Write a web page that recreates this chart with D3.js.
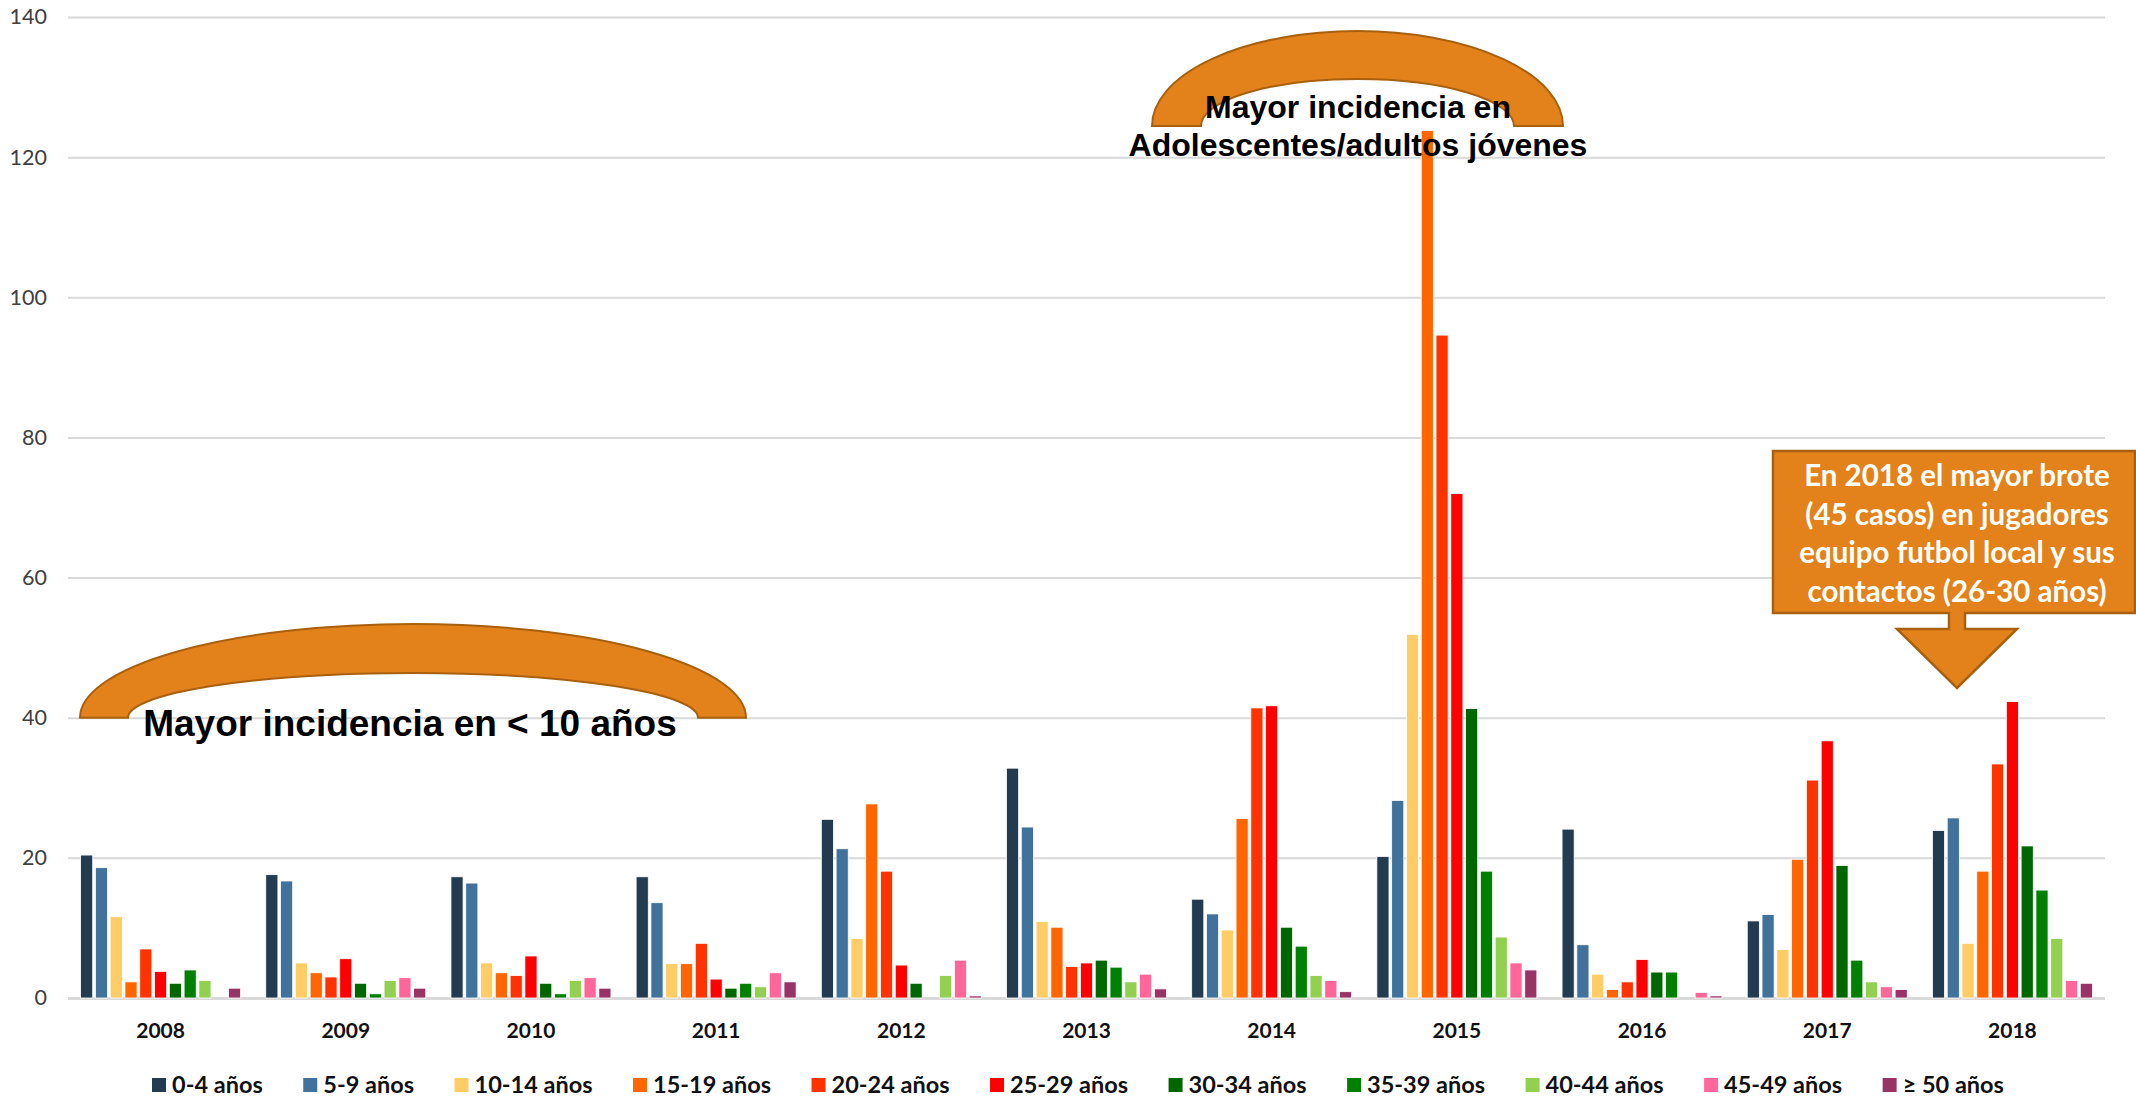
<!DOCTYPE html>
<html>
<head>
<meta charset="utf-8">
<script src="https://cdn.jsdelivr.net/npm/d3@7"></script>
<style>
body{margin:0;background:#fff;}
svg{display:block;}
</style>
</head>
<body>
<svg id="graph" width="2136" height="1098"></svg>
<script>
///--------------------Données
var annees = ["2008","2009","2010","2011","2012","2013","2014","2015","2016","2017","2018"];
var groupes = ["0-4 años","5-9 años","10-14 años","15-19 años","20-24 años","25-29 años","30-34 años","35-39 años","40-44 años","45-49 años","≥ 50 años"];
var couleurs = ["#223B50","#41729C","#FFCC66","#FF6600","#FF3300","#FF0000","#006600","#008000","#92D050","#FF6699","#993366"];

var s0_4   = [20.4, 17.6, 17.3, 17.3, 25.5, 32.8, 14.1, 20.2, 24.1, 11.0, 23.9];
var s5_9   = [18.6, 16.7, 16.4, 13.6, 21.3, 24.4, 12.0, 28.2, 7.6, 11.9, 25.7];
var s10_14 = [11.6, 5.0, 5.0, 4.9, 8.5, 10.9, 9.7, 51.9, 3.4, 6.9, 7.8];
var s15_19 = [2.3, 3.6, 3.6, 4.9, 27.7, 10.1, 25.6, 123.8, 1.2, 19.8, 18.1];
var s20_24 = [7.0, 3.0, 3.2, 7.8, 18.1, 4.5, 41.4, 94.6, 2.3, 31.1, 33.4];
var s25_29 = [3.8, 5.6, 6.0, 2.7, 4.7, 5.0, 41.7, 72.0, 5.5, 36.7, 42.3];
var s30_34 = [2.1, 2.1, 2.1, 1.4, 2.1, 5.4, 10.1, 41.3, 3.7, 18.9, 21.7];
var s35_39 = [4.0, 0.6, 0.6, 2.1, 0, 4.4, 7.4, 18.1, 3.7, 5.4, 15.4];
var s40_44 = [2.5, 2.5, 2.5, 1.6, 3.2, 2.3, 3.2, 8.7, 0, 2.3, 8.5];
var s45_49 = [0, 2.9, 2.9, 3.6, 5.4, 3.4, 2.5, 5.0, 0.8, 1.6, 2.5];
var s50    = [1.4, 1.4, 1.4, 2.3, 0.3, 1.3, 0.9, 4.0, 0.3, 1.2, 2.1];
var series = [s0_4, s5_9, s10_14, s15_19, s20_24, s25_29, s30_34, s35_39, s40_44, s45_49, s50];

var ticksY = [0,20,40,60,80,100,120,140];

var note1 = "Mayor incidencia en < 10 años";
var note2 = ["Mayor incidencia en","Adolescentes/adultos jóvenes"];
var note3 = ["En 2018 el mayor brote","(45 casos) en jugadores","equipo futbol local y sus","contactos (26-30 años)"];

///--------------------Variables géométriques
var gauche = 68, droite = 2105, haut = 17, bas = 998;
var orange = "#E3821A", bord = "#A8600F";

var svg = d3.select("#graph");

var x0 = d3.scaleBand().domain(annees).range([gauche, droite]).paddingInner(0.136).paddingOuter(0.068);
var x1 = d3.scaleBand().domain(d3.range(groupes.length)).range([0, x0.bandwidth()]).paddingInner(0.18);
var y = d3.scaleLinear().domain([0,140]).range([bas, haut]);

build_axes();
build_barres();
build_legende();
build_notes();

function build_axes(){
	var ax = svg.append("g")
		.attr("transform","translate("+gauche+",0)")
		.call(d3.axisLeft(y).tickValues(ticksY).tickSize(-(droite-gauche)).tickPadding(21));
	ax.select(".domain").remove();
	ax.selectAll("line").attr("stroke","#D9D9D9").attr("stroke-width",function(d){ return d==0 ? 3 : 2; });
	ax.selectAll("text")
		.attr("font-family","Lato, 'Open Sans', sans-serif")
		.attr("font-size",21.5)
		.attr("fill","#404040");

	var bx = svg.append("g")
		.attr("transform","translate(0,"+bas+")")
		.call(d3.axisBottom(x0).tickSize(0).tickPadding(25));
	bx.select(".domain").remove();
	bx.selectAll("text")
		.attr("font-family","Lato, 'Open Sans', sans-serif")
		.attr("font-weight","bold")
		.attr("font-size",21)
		.attr("fill","#111");
}

function build_barres(){
	var g = svg.append("g").attr("id","barres");
	for(var s=0;s<series.length;s++){
		g.append("g")
			.attr("fill",couleurs[s])
			.selectAll("rect")
			.data(series[s])
			.enter()
			.append("rect")
			.attr("x",function(d,i){ return x0(annees[i]) + x1(s); })
			.attr("width",x1.bandwidth())
			.attr("y",function(d){ return y(d); })
			.attr("height",function(d){ return y(0)-y(d); })
			.attr("stroke","#fff")
			.attr("stroke-width",function(d){ return d>0 ? 0.8 : 0; });
	}
}

function build_legende(){
	var leg = svg.append("g").attr("id","legende");
	var X = 152, Yc = 1085;
	for(var i=0;i<groupes.length;i++){
		leg.append("rect")
			.attr("x",X).attr("y",Yc-7)
			.attr("width",14).attr("height",14)
			.attr("fill",couleurs[i]);
		var t = leg.append("text")
			.attr("x",X+20).attr("y",Yc)
			.attr("dy","0.36em")
			.attr("font-family","Lato, 'Open Sans', sans-serif")
			.attr("font-weight","bold")
			.attr("font-size",23.5)
			.attr("fill","#111")
			.text(groupes[i]);
		X = X + 20 + t.node().getComputedTextLength() + 40.5;
	}
}

function arc_bloc(cx, fy, rxo, ryo, rxi, ryi){
	return "M"+(cx-rxo)+","+fy
		+" A"+rxo+","+ryo+" 0 0 1 "+(cx+rxo)+","+fy
		+" L"+(cx+rxi)+","+fy
		+" A"+rxi+","+ryi+" 0 0 0 "+(cx-rxi)+","+fy+" Z";
}

function build_notes(){
	var n = svg.append("g").attr("id","notes");

	// arc à gauche, posé sur la ligne des 40
	n.append("path")
		.attr("d",arc_bloc(413, y(40), 333, y(40)-624, 285, y(40)-673))
		.attr("fill",orange).attr("stroke",bord).attr("stroke-width",2);
	n.append("text")
		.attr("x",410).attr("y",736)
		.attr("text-anchor","middle")
		.attr("font-family","'Liberation Sans', Arial, sans-serif")
		.attr("font-weight","bold")
		.attr("font-size",37)
		.attr("fill","#000")
		.text(note1);

	// arc du haut (2015)
	n.append("path")
		.attr("d",arc_bloc(1357.5, 126, 205.5, 95, 156.5, 47))
		.attr("fill",orange).attr("stroke",bord).attr("stroke-width",2);
	n.selectAll(".n2").data(note2).enter().append("text")
		.attr("x",1358)
		.attr("y",function(d,i){ return 118 + i*38; })
		.attr("text-anchor","middle")
		.attr("font-family","'Liberation Sans', Arial, sans-serif")
		.attr("font-weight","bold")
		.attr("font-size",32)
		.attr("fill","#000")
		.text(function(d){ return d; });

	// boite + flèche (2018)
	var bx = 1773, bw = 362, by = 451, bh = 162, ax = 1957;
	n.append("path")
		.attr("d","M"+bx+","+by+" h"+bw+" v"+bh+" H"+(ax+8)+" v16 h52 L"+ax+","+688+" L"+(ax-60)+","+(by+bh+16)+" h52 v-16 H"+bx+" Z")
		.attr("fill",orange).attr("stroke",bord).attr("stroke-width",2.5);
	n.selectAll(".n3").data(note3).enter().append("text")
		.attr("x",ax)
		.attr("y",function(d,i){ return 486 + i*38.5; })
		.attr("text-anchor","middle")
		.attr("font-family","Lato, 'Open Sans', sans-serif")
		.attr("font-weight","bold")
		.attr("font-size",29.5)
		.attr("fill","#fff")
		.text(function(d){ return d; });
}
</script>
</body>
</html>
